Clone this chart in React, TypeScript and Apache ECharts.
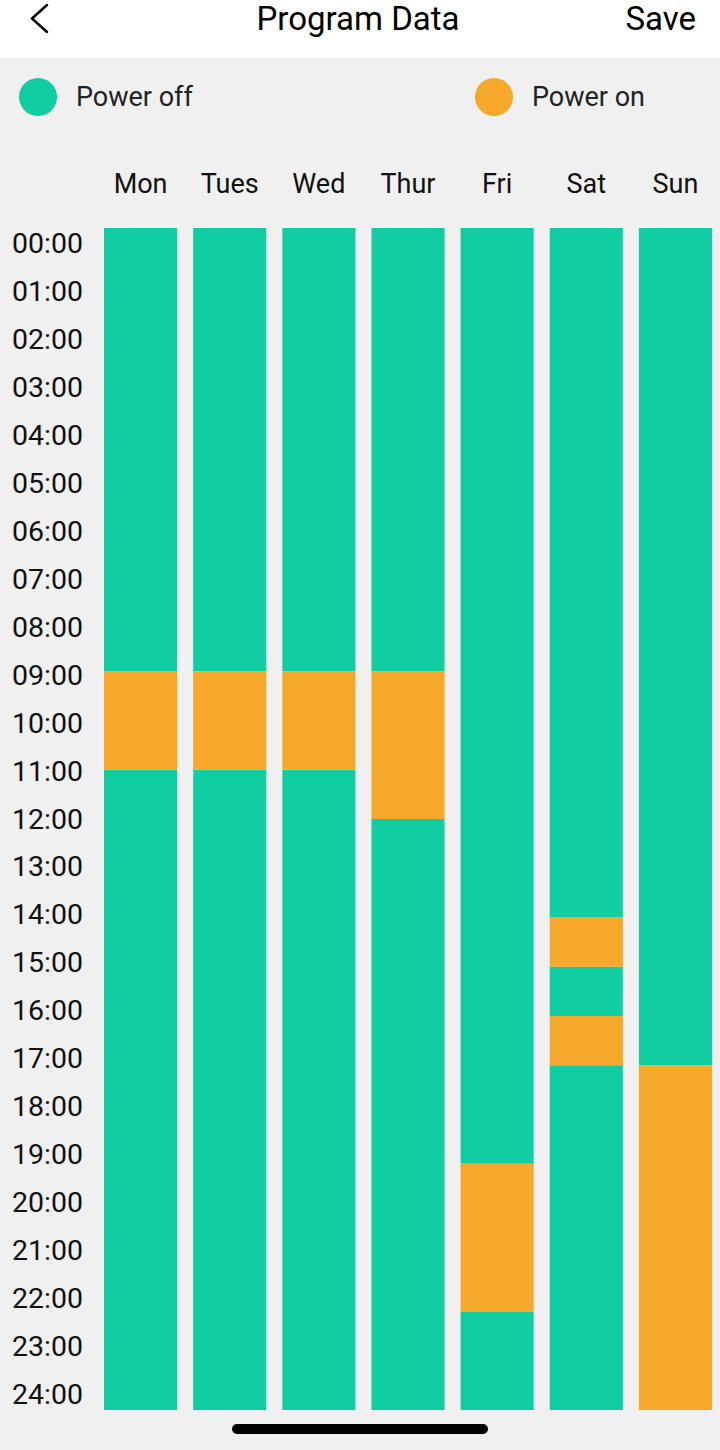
import React, { useEffect, useRef } from "react";
import * as echarts from "echarts";

const days = ["Mon", "Tues", "Wed", "Thur", "Fri", "Sat", "Sun"];
const hourLabels = [
  "00:00", "01:00", "02:00", "03:00", "04:00", "05:00", "06:00", "07:00",
  "08:00", "09:00", "10:00", "11:00", "12:00", "13:00", "14:00", "15:00",
  "16:00", "17:00", "18:00", "19:00", "20:00", "21:00", "22:00", "23:00", "24:00",
];
// Power-on periods (day index, start hour, end hour)
const powerOnDay = [0, 1, 2, 3, 4, 5, 5, 6];
const powerOnStart = [9, 9, 9, 9, 19, 14, 16, 17];
const powerOnEnd = [11, 11, 11, 12, 22, 15, 17, 24];
const dayStartHour = 0;
const dayEndHour = 24;

const OFF_COLOR = "#10CEA2";
const ON_COLOR = "#F5A82A";
const FONT = "Roboto, 'Liberation Sans', sans-serif";

function buildSegments() {
  const on: number[][] = [];
  const off: number[][] = [];
  days.forEach((_, d) => {
    const periods = powerOnDay
      .map((day, i) => (day === d ? [powerOnStart[i], powerOnEnd[i]] : null))
      .filter((p): p is number[] => p !== null)
      .sort((a, b) => a[0] - b[0]);
    let cursor = dayStartHour;
    periods.forEach(([s, e]) => {
      if (s > cursor) off.push([d, cursor, s]);
      on.push([d, s, e]);
      cursor = e;
    });
    if (cursor < dayEndHour) off.push([d, cursor, dayEndHour]);
  });
  return { on, off };
}

export default function App() {
  const ref = useRef<HTMLDivElement>(null);
  useEffect(() => {
    if (!ref.current) return;
    const chart = echarts.init(ref.current, null, { renderer: "svg" });
    const { on, off } = buildSegments();
    const renderItem = (params: any, api: any) => {
      const d = api.value(0);
      const p0 = api.coord([d, api.value(1)]);
      const p1 = api.coord([d, api.value(2)]);
      const w = api.size([1, 0])[0] * 0.82;
      return {
        type: "rect",
        shape: { x: p0[0] - w / 2, y: p0[1], width: w, height: p1[1] - p0[1] },
        style: { fill: api.visual("color") },
      };
    };
    const legendBase = {
      top: 78,
      padding: 0,
      icon: "circle",
      itemWidth: 38,
      itemHeight: 38,
      selectedMode: false,
      textStyle: { fontSize: 27, color: "#222", fontFamily: FONT, padding: [0, 0, 0, 14] },
    };
    chart.setOption({
      animation: false,
      backgroundColor: "#f0f0f0",
      textStyle: { fontFamily: FONT },
      legend: [
        { ...legendBase, data: ["Power off"], left: 19 },
        { ...legendBase, data: ["Power on"], left: 475 },
      ],
      grid: [
        { left: 96, right: 0, top: 228, bottom: 40 },
        { left: 96, width: 10, top: 220, height: 1198 },
      ],
      xAxis: [
        {
          type: "category",
          gridIndex: 0,
          data: days,
          position: "top",
          boundaryGap: true,
          axisLine: { show: false },
          axisTick: { show: false },
          axisLabel: { fontSize: 27, color: "#111", margin: 31, fontFamily: FONT },
        },
        { type: "value", gridIndex: 1, show: false },
      ],
      yAxis: [
        {
          type: "value",
          gridIndex: 0,
          min: 0,
          max: 24,
          inverse: true,
          show: false,
          splitLine: { show: false },
        },
        {
          type: "category",
          gridIndex: 1,
          data: hourLabels,
          inverse: true,
          boundaryGap: true,
          axisLine: { show: false },
          axisTick: { show: false },
          axisLabel: { fontSize: 28.5, color: "#111", margin: 13, fontFamily: FONT },
        },
      ],
      series: [
        {
          name: "Power off",
          type: "custom",
          xAxisIndex: 0,
          yAxisIndex: 0,
          itemStyle: { color: OFF_COLOR },
          renderItem,
          encode: { x: 0, y: [1, 2] },
          data: off,
        },
        {
          name: "Power on",
          type: "custom",
          xAxisIndex: 0,
          yAxisIndex: 0,
          itemStyle: { color: ON_COLOR },
          renderItem,
          encode: { x: 0, y: [1, 2] },
          data: on,
        },
      ],
      graphic: [
        { type: "rect", left: 0, top: 0, shape: { width: 720, height: 58 }, style: { fill: "#ffffff" }, z: 0 },
        {
          type: "text",
          x: 358,
          y: 18,
          style: { text: "Program Data", fontSize: 33, fill: "#000", fontFamily: FONT, align: "center", verticalAlign: "middle" },
        },
        {
          type: "text",
          x: 696,
          y: 18,
          style: { text: "Save", fontSize: 33, fill: "#000", fontFamily: FONT, align: "right", verticalAlign: "middle" },
        },
        {
          type: "polyline",
          shape: { points: [[47, 5], [32, 18.5], [47, 32]] },
          style: { stroke: "#000", lineWidth: 2.5, fill: "none", lineCap: "round", lineJoin: "round" },
        },
        {
          type: "rect",
          shape: { x: 232, y: 1424, width: 256, height: 10, r: 5 },
          style: { fill: "#000" },
        },
      ],
    });
    return () => chart.dispose();
  }, []);
  return (
    <div
      ref={ref}
      style={{ position: "absolute", left: 0, top: 0, width: 720, height: 1450 }}
    />
  );
}
